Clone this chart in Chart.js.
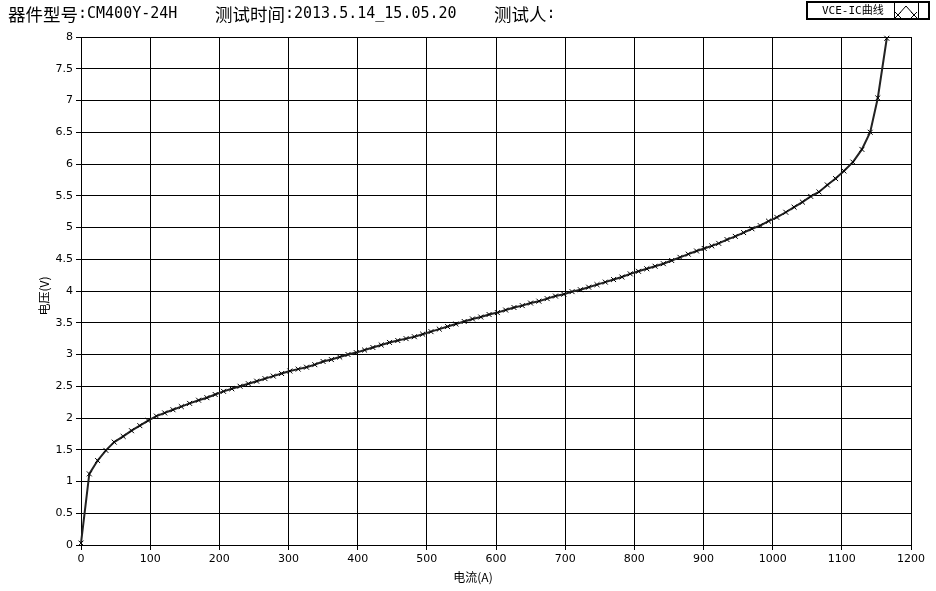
<!DOCTYPE html>
<html lang="zh">
<head>
  <meta charset="UTF-8" />
  <title>VCE-IC曲线</title>
  <script src="https://cdn.jsdelivr.net/npm/chart.js"></script>
  <style>
    html, body {
      margin: 0;
      padding: 0;
      background: #fff;
    }
    #chart {
      display: block;
    }
  </style>
</head>
<body>
  <canvas id="chart" width="936" height="591"></canvas>

  <script>
    // current (A) and voltage (V)
    const currentA = [
      0, 12, 24, 36, 48, 61, 73, 85, 97, 109,
      121, 133, 145, 157, 170, 182, 194, 206, 218, 230,
      242, 254, 266, 278, 290, 302, 314, 326, 338, 350,
      362, 374, 386, 398, 410, 422, 434, 446, 458, 470,
      482, 494, 506, 518, 530, 542, 554, 566, 578, 590,
      602, 614, 626, 638, 650, 662, 674, 686, 698, 710,
      722, 734, 746, 758, 770, 782, 794, 806, 818, 830,
      842, 854, 866, 878, 890, 901, 912, 922, 934, 946,
      958, 970, 982, 994, 1006, 1019, 1031, 1043, 1055, 1067,
      1079, 1091, 1103, 1116, 1129, 1141, 1152, 1165
    ];
    const voltageV = [
      0.03, 1.12, 1.33, 1.49, 1.62, 1.71, 1.80, 1.88, 1.96, 2.03,
      2.08, 2.13, 2.18, 2.23, 2.28, 2.32, 2.37, 2.42, 2.46, 2.50,
      2.54, 2.58, 2.62, 2.66, 2.70, 2.74, 2.77, 2.80, 2.84, 2.89,
      2.92, 2.96, 3.00, 3.03, 3.07, 3.11, 3.15, 3.19, 3.22, 3.25,
      3.28, 3.32, 3.36, 3.40, 3.44, 3.48, 3.52, 3.56, 3.59, 3.63,
      3.66, 3.70, 3.74, 3.77, 3.81, 3.84, 3.88, 3.92, 3.95, 3.99,
      4.02, 4.06, 4.10, 4.14, 4.18, 4.22, 4.27, 4.31, 4.35, 4.39,
      4.43, 4.48, 4.53, 4.58, 4.63, 4.67, 4.71, 4.75, 4.81, 4.86,
      4.92, 4.98, 5.03, 5.10, 5.16, 5.24, 5.32, 5.40, 5.49, 5.56,
      5.67, 5.77, 5.89, 6.03, 6.23, 6.50, 7.04, 7.98
    ];
    const xTickLabels = ['0', '100', '200', '300', '400', '500', '600', '700', '800', '900', '1000', '1100', '1200'];
    const yTickLabels = ['0', '0.5', '1', '1.5', '2', '2.5', '3', '3.5', '4', '4.5', '5', '5.5', '6', '6.5', '7', '7.5', '8'];

    const seriesName = 'VCE-IC曲线';
    const xTitle = '电流(A)';
    const yTitle = '电压(V)';
    const headerRuns = [
      // [text, cjk?, x start]
      ['器件型号', true, 8], [':CM400Y-24H', false, null],
      ['测试时间', true, 215], [':2013.5.14_15.05.20', false, null],
      ['测试人', true, 494], [':', false, null]
    ];

    const cjkFont = '17.5px "Noto Sans CJK SC"';
    const monoFont = '15px "DejaVu Sans Mono"';
    const tickFont = { family: '"DejaVu Sans", sans-serif', size: 11 };

    const points = currentA.map((c, i) => ({ x: c, y: voltageV[i] }));

    // header text, legend box and axis titles
    const decorPlugin = {
      id: 'decor',
      afterDraw(chart) {
        const ctx = chart.ctx;
        ctx.save();
        ctx.fillStyle = '#000';
        ctx.textBaseline = 'middle';
        ctx.textAlign = 'left';

        // header line
        let x = 0;
        headerRuns.forEach(([text, cjk, start]) => {
          if (start !== null) x = start;
          ctx.font = cjk ? cjkFont : monoFont;
          ctx.fillText(text, x, 14);
          x += ctx.measureText(text).width;
        });

        // legend
        ctx.strokeStyle = '#000';
        ctx.lineWidth = 2;
        ctx.strokeRect(807, 2, 122, 17);
        ctx.lineWidth = 1;
        ctx.strokeRect(894.5, 2.5, 24, 16);
        ctx.font = '11px "DejaVu Sans Mono", "Noto Sans CJK SC"';
        ctx.fillText(seriesName, 822, 11);
        ctx.beginPath();
        ctx.moveTo(898, 15);
        ctx.lineTo(906, 6);
        ctx.lineTo(914, 15);
        ctx.stroke();
        [[898, 15], [914, 15]].forEach(([px, py]) => {
          ctx.beginPath();
          ctx.moveTo(px - 3, py - 3); ctx.lineTo(px + 3, py + 3);
          ctx.moveTo(px + 3, py - 3); ctx.lineTo(px - 3, py + 3);
          ctx.stroke();
        });

        // axis titles
        ctx.font = '12px "Noto Sans CJK SC"';
        ctx.textAlign = 'center';
        ctx.fillText(xTitle, 473, 577);
        ctx.translate(44, 296);
        ctx.rotate(-Math.PI / 2);
        ctx.fillText(yTitle, 0, 0);
        ctx.restore();
      }
    };

    const ctx = document.getElementById('chart').getContext('2d');
    new Chart(ctx, {
      type: 'line',
      data: {
        datasets: [{
          label: seriesName,
          data: points,
          borderColor: '#222',
          borderWidth: 2,
          tension: 0,
          pointStyle: 'crossRot',
          pointRadius: 3.5,
          pointBorderWidth: 1,
          pointBorderColor: '#000',
          pointBackgroundColor: '#000',
          clip: false
        }]
      },
      options: {
        responsive: false,
        devicePixelRatio: 1,
        animation: false,
        layout: { padding: { top: 37, right: 25, left: 0, bottom: 0 } },
        plugins: {
          legend: { display: false },
          tooltip: { enabled: false }
        },
        scales: {
          x: {
            type: 'linear',
            min: 0,
            max: 1200,
            afterFit: s => { s.height = 46; },
            afterBuildTicks: s => { s.ticks = xTickLabels.map(v => ({ value: Number(v) })); },
            ticks: {
              color: '#000',
              font: tickFont,
              padding: 3,
              maxRotation: 0,
              autoSkip: false,
              callback: v => String(v)
            },
            grid: { color: '#000', lineWidth: 1, tickLength: 5 },
            border: { color: '#000', width: 1 }
          },
          y: {
            min: 0,
            max: 8,
            afterFit: s => { s.width = 81; },
            afterBuildTicks: s => { s.ticks = yTickLabels.map(v => ({ value: Number(v) })); },
            ticks: {
              color: '#000',
              font: tickFont,
              padding: 3,
              autoSkip: false,
              callback: v => String(v)
            },
            grid: { color: '#000', lineWidth: 1, tickLength: 5 },
            border: { color: '#000', width: 1 }
          }
        }
      },
      plugins: [decorPlugin]
    });
  </script>
</body>
</html>
